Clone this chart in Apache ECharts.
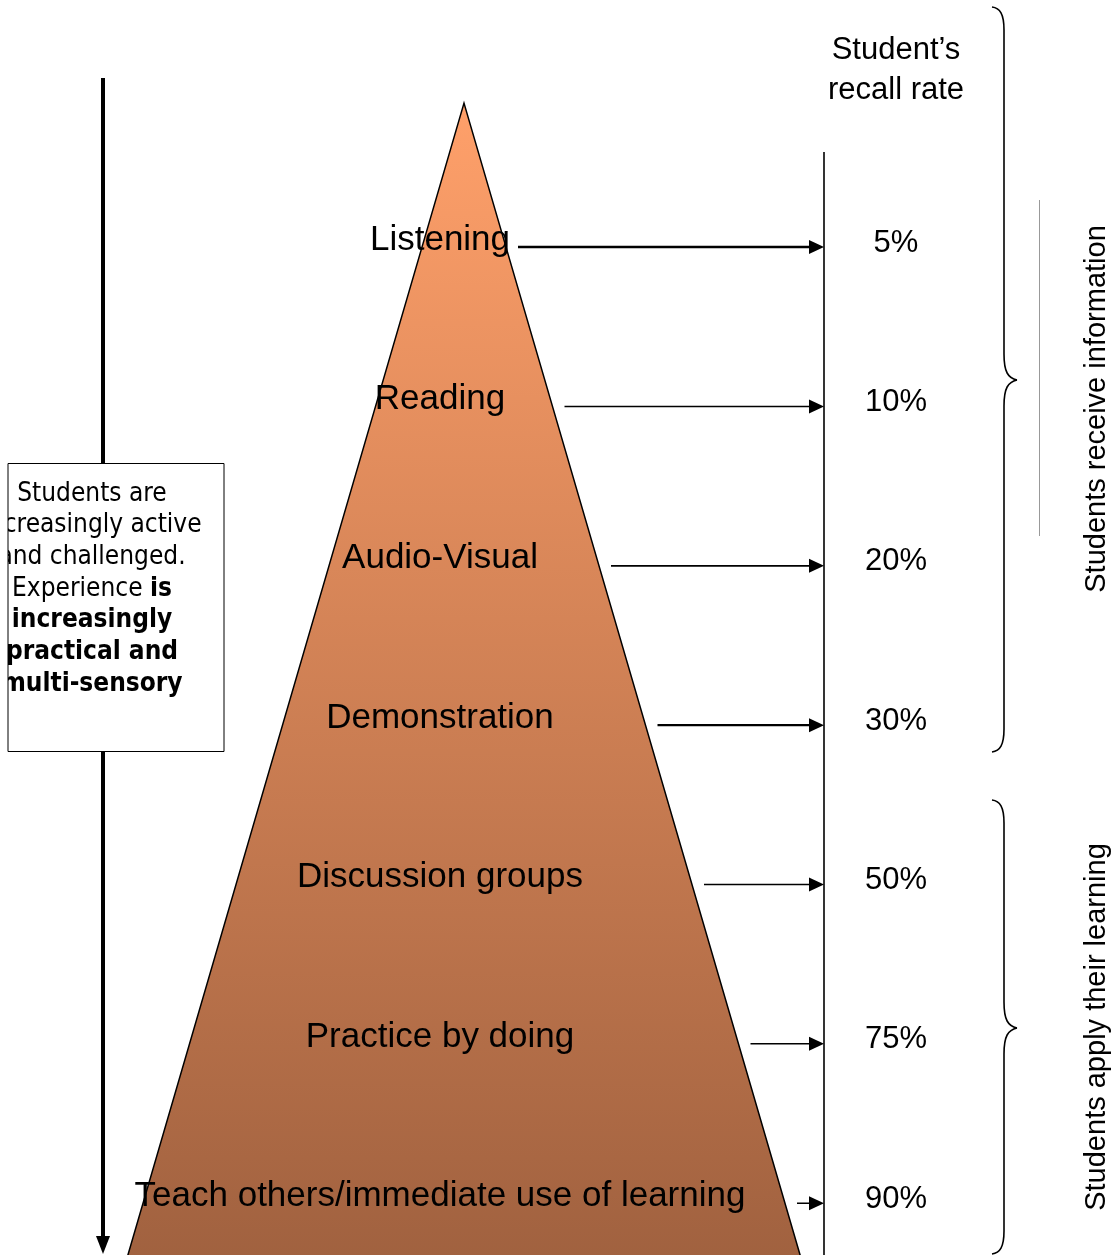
<!DOCTYPE html>
<html>
<head>
<meta charset="utf-8">
<script src="https://cdn.jsdelivr.net/npm/echarts@6/dist/echarts.min.js"></script>
<style>
html,body{margin:0;padding:0;background:#fff;}
#chart{width:1117px;height:1255px;}
</style>
</head>
<body>
<div id="chart"></div>
<script>
// ---- data ----
const categories = ['Listening', 'Reading', 'Audio-Visual', 'Demonstration', 'Discussion groups', 'Practice by doing', 'Teach others/immediate use of learning'];
const recallRates = [5, 10, 20, 30, 50, 75, 90];
const recallTitle = 'Student\u2019s\nrecall rate';
const groupLabels = ['Students receive information', 'Students apply their learning'];
const boxText = 'Students are\nincreasingly active\nand challenged.\nExperience {b|is}\n{b|increasingly}\n{b|practical and}\n{b|multi-sensory}';

// ---- styles / layout ----
const arrowWidths = [2.4, 1.5, 1.7, 2.4, 1.5, 1.5, 1.5];
const APEX_X = 464, APEX_ROW = -0.853, BASE_ROW = 6.45, HALF_PER_ROW = 46.5;
const LABEL_X = 440, PCT_X = 896, LINE_X = 824;
const SANS = "'Liberation Sans', Arial, sans-serif";
const BOXFONT = "'DejaVu Sans Condensed', 'DejaVu Sans', sans-serif";

const chart = echarts.init(document.getElementById('chart'), null, {renderer: 'canvas'});

function edgeAt(api, y) {
  const apex = api.coord([APEX_X, APEX_ROW]);
  const base = api.coord([APEX_X + HALF_PER_ROW * (BASE_ROW - APEX_ROW), BASE_ROW]);
  const slope = (base[0] - apex[0]) / (base[1] - apex[1]);
  return apex[0] + slope * (y - apex[1]);
}

// curly brace built from bezier curves and lines
function brace(top, tip, bottom, xl, xm, xt) {
  const st = {fill: 'none', stroke: '#000', lineWidth: 1.6};
  return [
    {type: 'bezierCurve', z: 3, shape: {x1: xl, y1: top, cpx1: xl + 8, cpy1: top + 1, cpx2: xm, cpy2: top + 7, x2: xm, y2: top + 23}, style: st},
    {type: 'line', z: 3, shape: {x1: xm, y1: top + 23, x2: xm, y2: tip - 26}, style: st},
    {type: 'bezierCurve', z: 3, shape: {x1: xm, y1: tip - 26, cpx1: xm, cpy1: tip - 8, cpx2: xm + 4, cpy2: tip - 2, x2: xt, y2: tip}, style: st},
    {type: 'bezierCurve', z: 3, shape: {x1: xt, y1: tip, cpx1: xm + 4, cpy1: tip + 2, cpx2: xm, cpy2: tip + 8, x2: xm, y2: tip + 26}, style: st},
    {type: 'line', z: 3, shape: {x1: xm, y1: tip + 26, x2: xm, y2: bottom - 23}, style: st},
    {type: 'bezierCurve', z: 3, shape: {x1: xm, y1: bottom - 23, cpx1: xm, cpy1: bottom - 7, cpx2: xl + 8, cpy2: bottom - 1, x2: xl, y2: bottom}, style: st}
  ];
}

const option = {
  animation: false,
  backgroundColor: '#ffffff',
  grid: {left: 0, right: 0, top: 0, bottom: 0},
  xAxis: {type: 'value', min: 0, max: 1117, show: false},
  yAxis: {type: 'value', inverse: true, min: -1.5, max: 6.375, show: false},
  series: [
    {
      type: 'custom', name: 'pyramid', clip: false, z: 2,
      data: [[0]],
      renderItem: function (params, api) {
        const half = HALF_PER_ROW * (BASE_ROW - APEX_ROW);
        const apex = api.coord([APEX_X, APEX_ROW]);
        const bl = api.coord([APEX_X - half, BASE_ROW]);
        const br = api.coord([APEX_X + half, BASE_ROW]);
        return {
          type: 'polygon',
          shape: {points: [apex, br, bl]},
          style: {
            fill: new echarts.graphic.LinearGradient(0, 0, 0, 1, [
              {offset: 0, color: 'rgb(255,160,106)'},
              {offset: 1, color: 'rgb(160,97,63)'}
            ]),
            stroke: '#000', lineWidth: 1.5
          }
        };
      }
    },
    {
      type: 'custom', name: 'arrows', clip: false, z: 3,
      data: recallRates.map((v, i) => [i, v]),
      renderItem: function (params, api) {
        const row = api.value(0);
        const y = api.coord([0, row])[1] + 8;
        const x0 = edgeAt(api, y) + 12;
        const x1 = api.coord([LINE_X, row])[0];
        return {
          type: 'group',
          children: [
            {type: 'line', shape: {x1: x0, y1: y, x2: x1 - 12, y2: y}, style: {stroke: '#000', lineWidth: arrowWidths[params.dataIndex]}},
            {type: 'polygon', shape: {points: [[x1, y], [x1 - 15, y - 7], [x1 - 15, y + 7]]}, style: {fill: '#000'}}
          ]
        };
      }
    },
    {
      type: 'custom', name: 'labels', clip: false, z: 4,
      data: categories.map((c, i) => [i, i]),
      renderItem: function (params, api) {
        const p = api.coord([LABEL_X, api.value(0)]);
        return {
          type: 'text',
          style: {text: categories[params.dataIndex], x: p[0], y: p[1] + 1, fill: '#000',
            font: '35px ' + SANS, align: 'center', verticalAlign: 'middle'}
        };
      }
    },
    {
      type: 'custom', name: 'recall', clip: false, z: 4,
      data: recallRates.map((v, i) => [i, v]),
      renderItem: function (params, api) {
        const p = api.coord([PCT_X, api.value(0)]);
        return {
          type: 'text',
          style: {text: api.value(1) + '%', x: p[0], y: p[1] + 4, fill: '#000',
            font: '31px ' + SANS, align: 'center', verticalAlign: 'middle'}
        };
      }
    }
  ],
  graphic: [
    // left downward arrow
    {type: 'line', z: 1, shape: {x1: 103, y1: 78, x2: 103, y2: 1238}, style: {stroke: '#000', lineWidth: 4}},
    {type: 'polygon', z: 1, shape: {points: [[96, 1236], [110, 1236], [103, 1254]]}, style: {fill: '#000'}},
    // box
    {type: 'rect', z: 5, shape: {x: 8, y: 463.5, width: 216, height: 288}, style: {fill: '#fff'}},
    {type: 'text', z: 6, x: 92, y: 589, style: {
      text: boxText, font: '26px ' + BOXFONT, fill: '#000', align: 'center', verticalAlign: 'middle',
      lineHeight: 31.7,
      rich: {b: {fontWeight: 'bold', fontSize: 26, fontFamily: BOXFONT, lineHeight: 31.7}}
    }},
    {type: 'rect', z: 7, shape: {x: 0, y: 464, width: 8, height: 287}, style: {fill: '#fff'}},
    {type: 'rect', z: 8, shape: {x: 8, y: 463.5, width: 216, height: 288}, style: {fill: 'none', stroke: '#000', lineWidth: 1}},
    // recall rate axis line
    {type: 'line', z: 3, shape: {x1: 824, y1: 152, x2: 824, y2: 1255}, style: {stroke: '#000', lineWidth: 1.6}},
    // title
    {type: 'text', z: 4, x: 896, y: 70, style: {text: recallTitle, font: '31px ' + SANS, fill: '#000', align: 'center', verticalAlign: 'middle', lineHeight: 40}},
    // thin gray line
    {type: 'line', z: 3, shape: {x1: 1039.5, y1: 200, x2: 1039.5, y2: 536}, style: {stroke: '#999', lineWidth: 1}},
    // rotated group labels
    {type: 'text', z: 4, x: 1097, y: 409, rotation: Math.PI / 2, style: {text: groupLabels[0], font: '29px ' + SANS, fill: '#000', align: 'center', verticalAlign: 'middle'}},
    {type: 'text', z: 4, x: 1097, y: 1027, rotation: Math.PI / 2, style: {text: groupLabels[1], font: '29px ' + SANS, fill: '#000', align: 'center', verticalAlign: 'middle'}}
  ].concat(brace(7, 380, 752, 992, 1004, 1017), brace(800, 1028, 1254, 992, 1004, 1017))
};
chart.setOption(option);
</script>
</body>
</html>
